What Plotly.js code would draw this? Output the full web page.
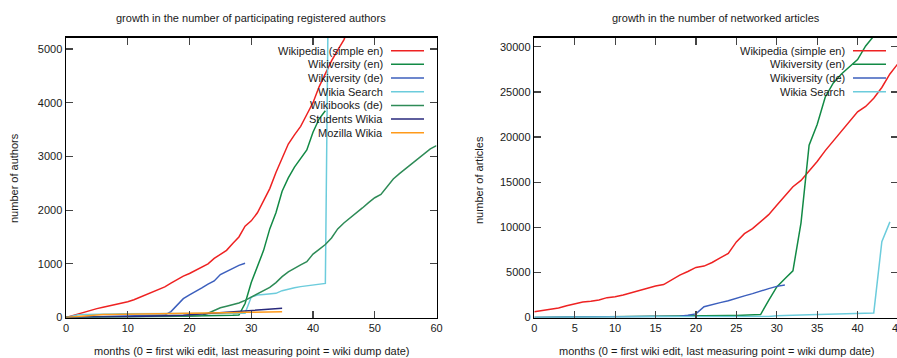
<!DOCTYPE html>
<html>
<head>
<meta charset="utf-8">
<script src="https://cdn.plot.ly/plotly-3.0.1.min.js"></script>
<style>
html,body{margin:0;padding:0;overflow:hidden;background:#fff;}
#chart{width:900px;height:358px;}
</style>
</head>
<body>
<div id="chart"></div>
<script>
// ---------- DATA ----------
// left chart: number of authors, monthly (month index = array index)
const authorNames = ["Wikipedia (simple en)","Wikiversity (en)","Wikiversity (de)","Wikia Search","Wikibooks (de)","Students Wikia","Mozilla Wikia"];
const wpAuthors = [0,35,70,105,140,165,190,215,240,265,295,330,375,420,465,515,570,640,710,770,820,880,940,1000,1100,1180,1250,1380,1500,1700,1800,1950,2180,2400,2700,2950,3230,3400,3560,3780,4000,4300,4550,4780,4980,5170,5450];
const wvenAuthors = [0,2,4,5,6,7,8,9,10,11,12,13,14,15,16,17,18,19,20,22,25,28,30,32,34,36,38,40,45,260,650,950,1250,1650,1950,2350,2600,2800,2950,3120,3450,3700,3850];
const wvdeAuthors = [0,3,6,8,10,12,14,16,18,20,22,24,26,28,30,35,45,110,230,350,420,480,550,620,680,800,860,920,970,1010];
const wsAuthors = [0,30,50,58,62,64,65,66,67,68,68,69,69,70,70,70,71,71,72,72,72,73,73,73,74,74,74,75,75,80,380,420,430,440,450,500,530,555,575,590,603,615,635,12000];
const wbAuthors = [0,2,4,6,8,10,11,12,13,14,15,16,17,18,19,20,21,22,23,25,28,32,40,80,130,180,210,240,270,320,380,430,500,560,650,760,850,920,980,1040,1180,1270,1360,1480,1650,1760,1850,1950,2040,2140,2230,2290,2440,2580,2680,2770,2860,2950,3050,3140,3200];
const stAuthors = [0,3,5,7,8,10,11,12,13,14,15,17,19,21,23,25,28,31,35,40,50,58,66,75,85,95,103,110,120,128,135,143,150,158,164,170];
const mzAuthors = [0,10,25,40,50,55,57,58,59,60,62,63,65,66,68,70,71,73,75,77,80,82,84,86,88,90,91,93,95,97,98,100,101,102,104,105];

// right chart: number of networked articles, monthly
const articleNames = ["Wikipedia (simple en)","Wikiversity (en)","Wikiversity (de)","Wikia Search"];
const wpArticles = [650,780,870,1050,1300,1550,1720,1800,1950,2200,2300,2500,2750,3000,3250,3500,3650,4200,4700,5100,5550,5700,6100,6600,7100,8380,9300,9850,10600,11400,12450,13500,14500,15200,16200,17300,18500,19600,20700,21800,22800,23400,24300,25500,27000,28150];
const wvenArticles = [0,5,10,15,20,25,30,35,40,45,50,55,60,70,80,90,100,110,120,130,150,165,180,195,210,230,260,290,330,1900,3390,4300,5170,10500,19100,21400,24450,26000,27000,27800,28600,30100,31200];
const wvdeArticles = [0,5,10,15,20,25,30,35,40,45,50,55,60,65,70,80,90,110,150,250,400,1200,1450,1650,1850,2150,2400,2650,2950,3200,3450,3600];
const wsArticles = [0,10,20,25,30,35,40,45,50,55,60,60,65,65,70,70,75,75,80,80,85,85,90,90,95,95,100,100,105,110,200,250,270,290,310,330,350,370,400,430,460,490,510,8400,10600];

// axis tick labels / titles
const leftTitle = "growth in the number of participating registered authors";
const rightTitle = "growth in the number of networked articles";
const xTitle = "months (0 = first wiki edit, last measuring point = wiki dump date)";
const leftYTitle = "number of authors";
const rightYTitle = "number of articles";

// ---------- STYLE ----------
const W = 900, H = 358;
const FONT = "Liberation Sans, Arial, sans-serif";
const TXT = "#1a1a1a";
const authorColors = ["#ee2222","#128a45","#3c5fbd","#6cccdc","#2e8b57","#28297c","#ff9a1a"];
const articleColors = ["#ee2222","#128a45","#3c5fbd","#6cccdc"];

const px = v => v / W;
const py = v => (H - v) / H;
const months = arr => arr.map((_, i) => i);

const authorSeries = [wpAuthors, wvenAuthors, wvdeAuthors, wsAuthors, wbAuthors, stAuthors, mzAuthors];
const articleSeries = [wpArticles, wvenArticles, wvdeArticles, wsArticles];

const traces = [];
authorSeries.forEach((s, i) => traces.push({
  x: months(s), y: s, name: authorNames[i], type: "scatter", mode: "lines",
  line: {color: authorColors[i], width: 1.5}, xaxis: "x", yaxis: "y", hoverinfo: "skip"
}));
articleSeries.forEach((s, i) => traces.push({
  x: months(s), y: s, name: articleNames[i], type: "scatter", mode: "lines",
  line: {color: articleColors[i], width: 1.5}, xaxis: "x2", yaxis: "y2", hoverinfo: "skip"
}));

const axBase = {
  showgrid: false, zeroline: false, showline: true, linecolor: "#000", linewidth: 1.5,
  mirror: "ticks", ticks: "inside", ticklen: 7, tickwidth: 1.2, tickcolor: "#444",
  tickfont: {family: FONT, size: 11, color: TXT}, fixedrange: true,
  tickformat: "d", ticklabeloverflow: "allow"
};
const yDom = [py(317.5), py(37.5)];

const annotations = [];
const shapes = [];
const ann = (text, x, y, opts) => annotations.push(Object.assign({
  text, x: px(x), y: py(y), xref: "paper", yref: "paper", showarrow: false,
  font: {family: FONT, size: 11, color: TXT}, xanchor: "center", yanchor: "middle"
}, opts || {}));

ann(leftTitle, 251, 18);
ann(rightTitle, 716, 18);
ann(xTitle, 251, 351);
ann(xTitle, 716, 351);
ann(leftYTitle, 14, 178, {textangle: -90});
ann(rightYTitle, 479, 180, {textangle: -90});

// gnuplot-style key: right-aligned text, line sample to the right
function key(names, colors, textRight, lineX0, lineX1) {
  names.forEach((n, i) => {
    const yy = 50.7 + i * 13.67;
    ann(n, textRight, yy, {xanchor: "right"});
    shapes.push({type: "line", xref: "paper", yref: "paper",
      x0: px(lineX0), x1: px(lineX1), y0: py(yy), y1: py(yy),
      line: {color: colors[i], width: 1.5}});
  });
}
key(authorNames, authorColors, 385, 391, 424);
key(articleNames, articleColors, 847, 853, 886);

const layout = {
  width: W, height: H, margin: {l: 0, r: 0, t: 0, b: 0},
  paper_bgcolor: "#fff", plot_bgcolor: "#fff", showlegend: false,
  xaxis: Object.assign({}, axBase, {domain: [px(66), px(436.5)], range: [0, 60], dtick: 10, tick0: 0, anchor: "y"}),
  yaxis: Object.assign({}, axBase, {domain: yDom, range: [0, 5214], dtick: 1000, tick0: 0, anchor: "x"}),
  xaxis2: Object.assign({}, axBase, {domain: [px(534.3), px(898)], range: [0, 45], dtick: 5, tick0: 0, anchor: "y2"}),
  yaxis2: Object.assign({}, axBase, {domain: yDom, range: [0, 31040], dtick: 5000, tick0: 0, anchor: "x2"}),
  annotations, shapes
};

Plotly.newPlot("chart", traces, layout, {staticPlot: true, displayModeBar: false});
</script>
</body>
</html>
